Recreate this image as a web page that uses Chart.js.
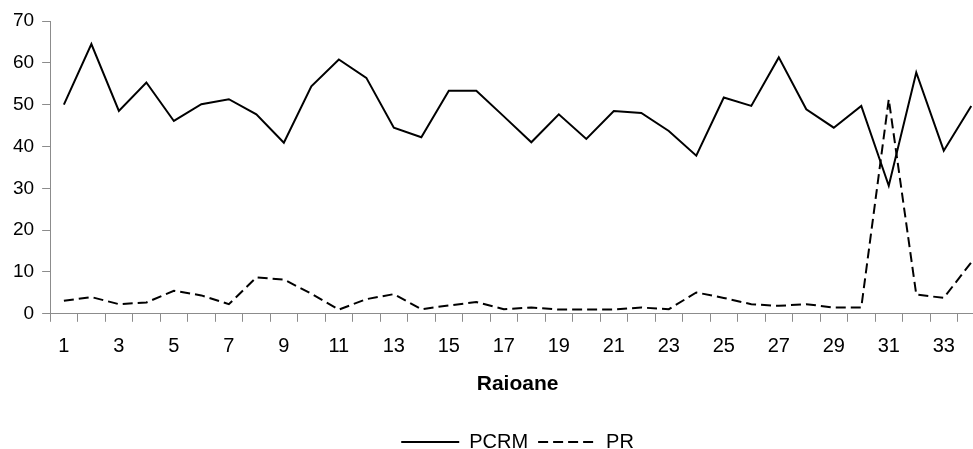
<!DOCTYPE html>
<html>
<head>
<meta charset="utf-8">
<script src="https://cdn.jsdelivr.net/npm/chart.js@4/dist/chart.umd.min.js"></script>
<style>
  html, body { margin: 0; padding: 0; background: #fff; overflow: hidden; }
  #wrap { width: 1034px; height: 462px; position: relative; }
</style>
</head>
<body>
<div id="wrap"><canvas id="votes"></canvas></div>
<script>
// districts 1..34
const raioane = Array.from({ length: 34 }, (_, i) => String(i + 1));

const pcrm = [50.0, 64.5, 48.5, 55.3, 46.1, 50.1, 51.3, 47.7, 40.9, 54.4,
              60.8, 56.4, 44.5, 42.2, 53.3, 53.3, 47.2, 41.0, 47.7, 41.8,
              48.5, 48.0, 43.7, 37.8, 51.7, 49.7, 61.3, 48.9, 44.5, 49.7,
              30.6, 57.7, 39.0, 49.7];

const pr = [3.1, 4.0, 2.3, 2.7, 5.5, 4.4, 2.3, 8.7, 8.2, 4.8,
            1.0, 3.5, 4.7, 1.1, 2.0, 2.8, 1.1, 1.5, 1.0, 1.0,
            1.0, 1.5, 1.1, 5.1, 3.8, 2.3, 1.9, 2.3, 1.5, 1.5,
            51.3, 4.6, 3.8, 12.3];

const yTicks = [0, 10, 20, 30, 40, 50, 60, 70];

const axisGray = '#8c8c8c';

new Chart(document.getElementById('votes').getContext('2d'), {
    type: 'line',
    data: {
        labels: raioane,
        datasets: [
            {
                label: 'PCRM',
                data: pcrm,
                borderColor: '#000',
                backgroundColor: '#000',
                borderWidth: 2,
                pointRadius: 0,
                tension: 0
            },
            {
                label: 'PR',
                data: pr,
                borderColor: '#000',
                backgroundColor: '#000',
                borderWidth: 2,
                borderDash: [10, 5],
                pointRadius: 0,
                tension: 0
            }
        ]
    },
    options: {
        responsive: true,
        maintainAspectRatio: false,
        animation: false,
        layout: {
            padding: { top: 21, bottom: 0, left: 5, right: 49 }
        },
        scales: {
            x: {
                offset: true,
                grid: {
                    offset: true,
                    drawOnChartArea: false,
                    color: axisGray,
                    tickLength: 8
                },
                border: { color: axisGray, width: 1 },
                ticks: {
                    autoSkip: false,
                    maxRotation: 0,
                    color: '#000',
                    padding: 13,
                    font: { size: 20, family: 'Liberation Sans' },
                    callback: function(value, index) {
                        return index % 2 === 0 ? this.getLabelForValue(value) : '';
                    }
                },
                title: {
                    display: true,
                    text: 'Raioane',
                    color: '#000',
                    padding: { top: 0, bottom: 25 },
                    font: { size: 21, weight: 'bold', family: 'Liberation Sans' }
                }
            },
            y: {
                min: yTicks[0],
                max: yTicks[yTicks.length - 1],
                afterBuildTicks: function(axis) {
                    axis.ticks = yTicks.map(v => ({ value: v }));
                },
                grid: {
                    drawOnChartArea: false,
                    color: axisGray,
                    tickLength: 8
                },
                border: { color: axisGray, width: 1 },
                ticks: {
                    color: '#000',
                    padding: 8,
                    font: { size: 19, family: 'Liberation Sans' }
                }
            }
        },
        plugins: {
            legend: {
                position: 'bottom',
                fullSize: false, // center under the plot, not the canvas
                labels: {
                    usePointStyle: true,
                    pointStyle: 'line',
                    pointStyleWidth: 58,
                    color: '#000',
                    padding: 10,
                    font: { size: 20, family: 'Liberation Sans' },
                    // point-style items lose the dash, so copy it from the dataset
                    generateLabels: function(chart) {
                        const items = Chart.defaults.plugins.legend.labels.generateLabels(chart);
                        items.forEach(item => {
                            const ds = chart.data.datasets[item.datasetIndex];
                            item.lineDash = ds.borderDash || [];
                            item.lineWidth = ds.borderWidth;
                            item.strokeStyle = ds.borderColor;
                        });
                        return items;
                    }
                }
            },
            tooltip: { enabled: false }
        }
    }
});
</script>
</body>
</html>
